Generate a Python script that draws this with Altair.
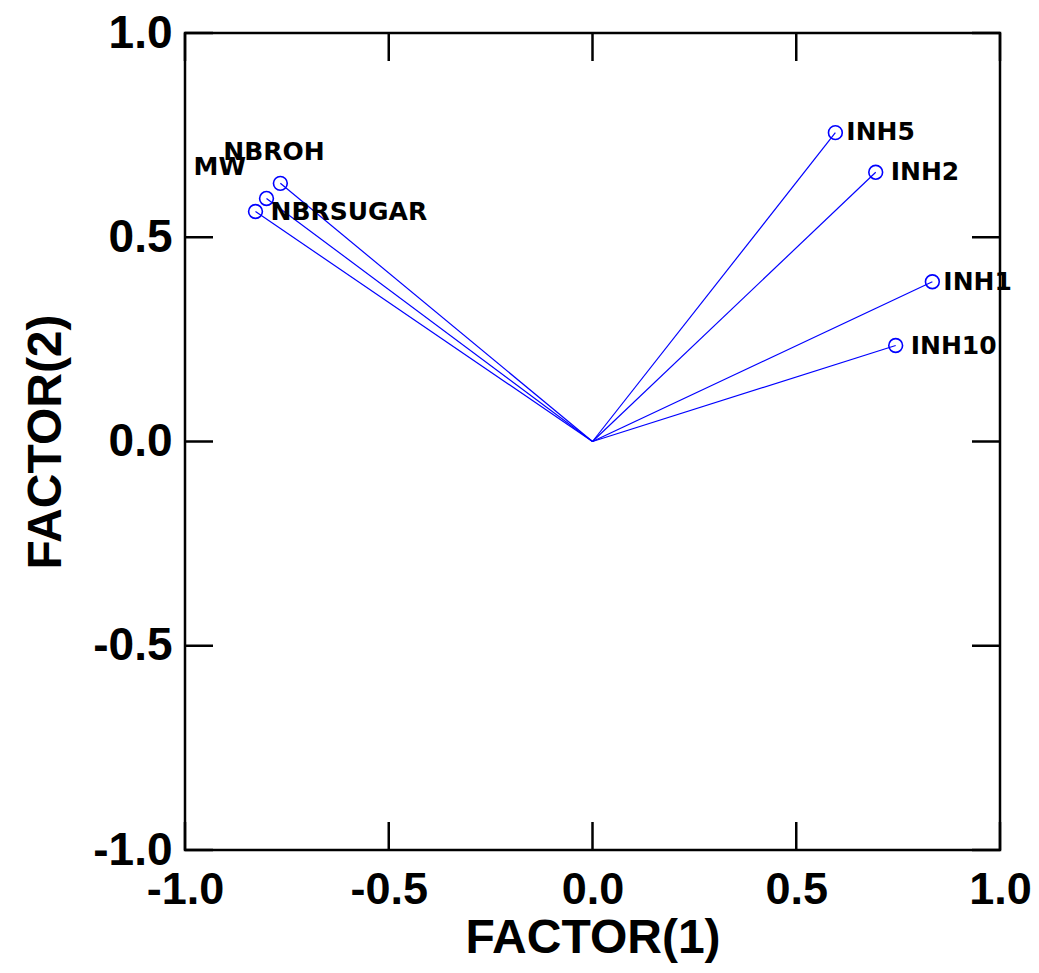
import altair as alt
import pandas as pd

labels = ["INH5", "INH2", "INH1", "INH10", "NBROH", "MW", "NBRSUGAR"]
factor1 = [0.596, 0.695, 0.834, 0.744, -0.766, -0.800, -0.827]
factor2 = [0.756, 0.659, 0.391, 0.235, 0.632, 0.595, 0.563]
label_dx = [11, 15, 11, 15, -57, -73, 15]
label_dy = [-1, 0, 0, 0, -31, -31, 0]

tick_values = [-1.0, -0.5, 0.0, 0.5, 1.0]

df = pd.DataFrame({"label": labels, "f1": factor1, "f2": factor2,
                   "dx": label_dx, "dy": label_dy})
ticks = pd.DataFrame({"t": tick_values})

FONT = "Liberation Sans"
BLUE = "#0000FF"
LABEL_EXPR = "datum.value < 0 ? '-' + format(-datum.value, '.1f') : format(datum.value, '.1f')"

xs = alt.Scale(domain=[-1, 1], nice=False, zero=False)
ys = alt.Scale(domain=[-1, 1], nice=False, zero=False)

xaxis = alt.Axis(values=tick_values, labelExpr=LABEL_EXPR, ticks=False, domain=False, grid=False,
                 labelFont=FONT, labelFontSize=45, labelFontWeight="bold", labelColor="black",
                 labelPadding=17, labelFlush=False, labelOverlap=False,
                 titleFont=FONT, titleFontSize=48, titleFontWeight="bold", titleColor="black",
                 titlePadding=2)
yaxis = alt.Axis(values=tick_values, labelExpr=LABEL_EXPR, ticks=False, domain=False, grid=False,
                 labelFont=FONT, labelFontSize=46, labelFontWeight="bold", labelColor="black",
                 labelPadding=13, labelFlush=False, labelOverlap=False,
                 titleFont=FONT, titleFontSize=48, titleFontWeight="bold", titleColor="black",
                 titlePadding=22)

base = alt.Chart(df)

rules = base.mark_rule(color=BLUE, strokeWidth=1.2).encode(
    x=alt.X("f1:Q", scale=xs, axis=xaxis, title="FACTOR(1)"),
    y=alt.Y("f2:Q", scale=ys, axis=yaxis, title="FACTOR(2)"),
    x2=alt.datum(0),
    y2=alt.datum(0),
)

points = base.mark_point(shape="circle", filled=False, color=BLUE, size=190, strokeWidth=1.6,
                         opacity=1).encode(
    x=alt.X("f1:Q", scale=xs),
    y=alt.Y("f2:Q", scale=ys),
)

text_layers = []
for i, lab in enumerate(labels):
    t = alt.Chart(df[df["label"] == lab]).mark_text(
        align="left", baseline="middle", font="DejaVu Sans", fontWeight="bold",
        fontSize=25, color="black", dx=label_dx[i], dy=label_dy[i]
    ).encode(
        x=alt.X("f1:Q", scale=xs),
        y=alt.Y("f2:Q", scale=ys),
        text="label:N",
    )
    text_layers.append(t)

TL = 28
tick_style = dict(color="black", thickness=2.5, size=TL, opacity=1)
bottom_ticks = alt.Chart(ticks).mark_tick(orient="vertical", **tick_style).encode(
    x=alt.X("t:Q", scale=xs), y=alt.datum(-1, scale=ys), yOffset=alt.value(-TL / 2))
top_ticks = alt.Chart(ticks).mark_tick(orient="vertical", **tick_style).encode(
    x=alt.X("t:Q", scale=xs), y=alt.datum(1, scale=ys), yOffset=alt.value(TL / 2))
left_ticks = alt.Chart(ticks).mark_tick(orient="horizontal", **tick_style).encode(
    y=alt.Y("t:Q", scale=ys), x=alt.datum(-1, scale=xs), xOffset=alt.value(TL / 2))
right_ticks = alt.Chart(ticks).mark_tick(orient="horizontal", **tick_style).encode(
    y=alt.Y("t:Q", scale=ys), x=alt.datum(1, scale=xs), xOffset=alt.value(-TL / 2))

chart = alt.layer(
    bottom_ticks, top_ticks, left_ticks, right_ticks, rules, points, *text_layers
).properties(
    width=815, height=817,
    autosize=alt.AutoSizeParams(type="none"),
    padding={"left": 177, "top": 25, "right": 31, "bottom": 120},
).configure(
    background="white",
    view=alt.ViewConfig(stroke="black", strokeWidth=2.5),
)

chart.save("out.html", embed_options={"renderer": "svg", "actions": False})
